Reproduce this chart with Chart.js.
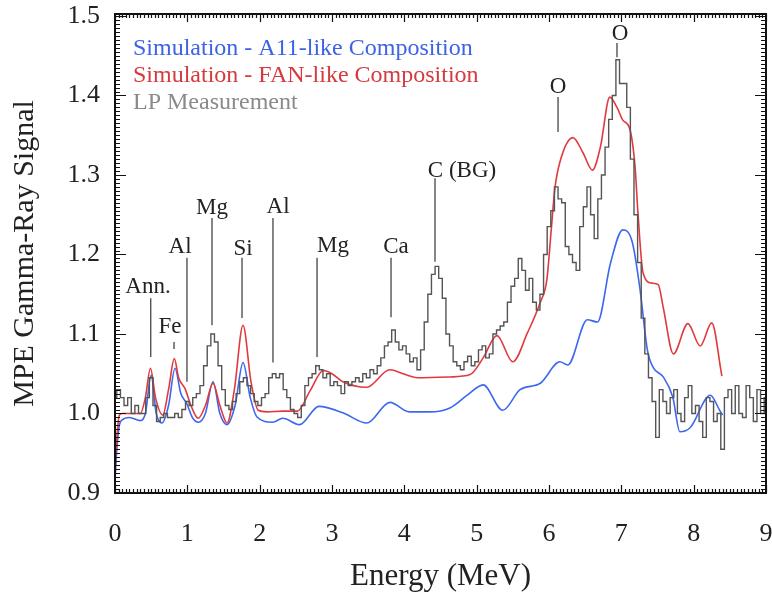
<!DOCTYPE html>
<html>
<head>
<meta charset="utf-8">
<script src="https://cdn.jsdelivr.net/npm/chart.js@4.4.1/dist/chart.umd.min.js"></script>
<style>
  html, body { margin: 0; padding: 0; background: #fff; }
</style>
</head>
<body>
<canvas id="spectrum" width="772" height="594"></canvas>
<script>
// simulation - A11-like composition
var a11Energy = [0, 0.03, 0.06, 0.1, 0.2, 0.35, 0.42, 0.5, 0.57, 0.65, 0.74, 0.83, 0.91, 0.99, 1.07,
  1.15, 1.25, 1.355, 1.45, 1.55, 1.66, 1.77, 1.87, 1.96, 2.18, 2.32, 2.55, 2.82, 3.15, 3.48,
  3.8, 4.07, 4.35, 4.63, 4.87, 5.09, 5.36, 5.6, 5.88, 6.15, 6.26, 6.53, 6.67, 6.85, 7.02,
  7.15, 7.26, 7.36, 7.44, 7.58, 7.71, 7.81, 7.95, 8.23, 8.36, 8.40];
var a11Signal = [0.916, 0.96, 0.985, 0.992, 0.995, 0.991, 1.0, 1.048, 1.0, 0.988, 1.01, 1.057, 1.025, 1.013, 0.995,
  0.989, 1.0, 1.040, 1.0, 0.986, 1.01, 1.064, 1.02, 0.996, 0.989, 0.994, 0.986, 1.009, 1.001, 0.988,
  1.014, 1.002, 1.002, 1.007, 1.023, 1.036, 1.004, 1.030, 1.038, 1.065, 1.061, 1.118, 1.115, 1.189, 1.231,
  1.216, 1.155, 1.080, 1.058, 1.046, 1.021, 0.977, 0.982, 1.023, 1.004, 0.998];

// simulation - FAN-like composition
var fanEnergy = [0, 0.03, 0.06, 0.1, 0.2, 0.35, 0.42, 0.49, 0.56, 0.66, 0.74, 0.82, 0.88, 0.97, 1.05,
  1.15, 1.25, 1.355, 1.45, 1.55, 1.65, 1.77, 1.88, 1.98, 2.1, 2.32, 2.52, 2.7, 2.88, 3.0,
  3.15, 3.48, 3.8, 3.98, 4.18, 4.63, 4.91, 5.09, 5.28, 5.5, 5.7, 5.88, 5.97, 6.03, 6.08,
  6.15, 6.33, 6.47, 6.6, 6.71, 6.84, 6.94, 7.02, 7.12, 7.19, 7.23, 7.3, 7.42, 7.51, 7.58,
  7.72, 7.92, 8.09, 8.25, 8.39];
var fanSignal = [0.93, 0.975, 0.998, 1.0, 1.0, 1.0, 1.02, 1.057, 1.02, 0.998, 1.03, 1.069, 1.045, 1.031, 1.01,
  0.994, 1.01, 1.038, 1.01, 0.988, 1.03, 1.111, 1.04, 1.004, 1.002, 1.003, 1.003, 1.029, 1.054, 1.05,
  1.04, 1.033, 1.055, 1.05, 1.045, 1.046, 1.049, 1.070, 1.098, 1.065, 1.101, 1.14, 1.168, 1.23, 1.282,
  1.316, 1.347, 1.328, 1.306, 1.335, 1.398, 1.385, 1.369, 1.357, 1.31, 1.252, 1.177, 1.164, 1.162, 1.133,
  1.075, 1.113, 1.085, 1.114, 1.047];

// LP measurement, one bin every 0.05 MeV
var lpEnergy = [0.00, 0.05, 0.10, 0.15, 0.20, 0.25, 0.30, 0.35, 0.40, 0.45,
  0.50, 0.55, 0.60, 0.65, 0.70, 0.75, 0.80, 0.85, 0.90, 0.95,
  1.00, 1.05, 1.10, 1.15, 1.20, 1.25, 1.30, 1.35, 1.40, 1.45,
  1.50, 1.55, 1.60, 1.65, 1.70, 1.75, 1.80, 1.85, 1.90, 1.95,
  2.00, 2.05, 2.10, 2.15, 2.20, 2.25, 2.30, 2.35, 2.40, 2.45,
  2.50, 2.55, 2.60, 2.65, 2.70, 2.75, 2.80, 2.85, 2.90, 2.95,
  3.00, 3.05, 3.10, 3.15, 3.20, 3.25, 3.30, 3.35, 3.40, 3.45,
  3.50, 3.55, 3.60, 3.65, 3.70, 3.75, 3.80, 3.85, 3.90, 3.95,
  4.00, 4.05, 4.10, 4.15, 4.20, 4.25, 4.30, 4.35, 4.40, 4.45,
  4.50, 4.55, 4.60, 4.65, 4.70, 4.75, 4.80, 4.85, 4.90, 4.95,
  5.00, 5.05, 5.10, 5.15, 5.20, 5.25, 5.30, 5.35, 5.40, 5.45,
  5.50, 5.55, 5.60, 5.65, 5.70, 5.75, 5.80, 5.85, 5.90, 5.95,
  6.00, 6.05, 6.10, 6.15, 6.20, 6.25, 6.30, 6.35, 6.40, 6.45,
  6.50, 6.55, 6.60, 6.65, 6.70, 6.75, 6.80, 6.85, 6.90, 6.95,
  7.00, 7.05, 7.10, 7.15, 7.20, 7.25, 7.30, 7.35, 7.40, 7.45,
  7.50, 7.55, 7.60, 7.65, 7.70, 7.75, 7.80, 7.85, 7.90, 7.95,
  8.00, 8.05, 8.10, 8.15, 8.20, 8.25, 8.30, 8.35, 8.40, 8.45,
  8.50, 8.55, 8.60, 8.65, 8.70, 8.75, 8.80, 8.85, 8.90, 8.95,
  9.00];
var lpSignal = [1.02, 1.03, 1.02, 1.01, 1.02, 1.00, 1.01, 1.00, 1.00, 1.02,
  1.045, 1.01, 0.99, 0.995, 1.00, 0.995, 0.995, 1.00, 0.995, 1.005,
  1.015, 1.01, 1.02, 1.025, 1.035, 1.06, 1.085, 1.10, 1.09, 1.06,
  1.03, 1.01, 1.005, 1.015, 1.025, 1.04, 1.045, 1.035, 1.025, 1.015,
  1.01, 1.02, 1.025, 1.045, 1.05, 1.045, 1.05, 1.03, 1.02, 1.005,
  1.00, 0.995, 1.01, 1.035, 1.045, 1.05, 1.06, 1.055, 1.045, 1.05,
  1.035, 1.04, 1.035, 1.025, 1.04, 1.035, 1.04, 1.045, 1.04, 1.05,
  1.045, 1.055, 1.05, 1.06, 1.07, 1.085, 1.09, 1.105, 1.09, 1.08,
  1.085, 1.075, 1.065, 1.07, 1.055, 1.08, 1.115, 1.15, 1.175, 1.185,
  1.17, 1.145, 1.10, 1.085, 1.065, 1.06, 1.055, 1.065, 1.072, 1.06,
  1.065, 1.08, 1.085, 1.07, 1.075, 1.10, 1.105, 1.11, 1.115, 1.14,
  1.16, 1.17, 1.195, 1.18, 1.155, 1.17, 1.14, 1.13, 1.15, 1.20,
  1.235, 1.255, 1.285, 1.27, 1.265, 1.21, 1.20, 1.19, 1.18, 1.235,
  1.26, 1.285, 1.25, 1.22, 1.27, 1.30, 1.335, 1.37, 1.40, 1.445,
  1.415, 1.415, 1.385, 1.32, 1.25, 1.19, 1.12, 1.075, 1.045, 1.015,
  0.97, 1.03, 1.015, 1.00, 1.02, 1.03, 1.00, 0.99, 1.02, 1.035,
  1.00, 1.01, 0.99, 0.97, 1.02, 1.015, 0.99, 1.00, 0.955, 1.02,
  1.03, 1.00, 1.035, 1.00, 0.995, 1.035, 1.02, 0.99, 1.03, 1.00,
  1.02];

// line labels: element, line energy, line top/bottom, label energy, label baseline
var lineNames = ['Ann.', 'Fe', 'Al', 'Mg', 'Si', 'Al', 'Mg', 'Ca', 'C (BG)', 'O', 'O'];
var lineEnergy = [0.494, 0.816, 0.995, 1.341, 1.756, 2.184, 2.793, 3.816, 4.424, 6.125, 6.94];
var lineTop = [1.145, 1.090, 1.196, 1.246, 1.196, 1.246, 1.196, 1.196, 1.296, 1.398, 1.466];
var lineBottom = [1.071, 1.081, 1.040, 1.111, 1.120, 1.064, 1.071, 1.121, 1.191, 1.354, 1.448];
var labelEnergy = [0.456, 0.760, 0.899, 1.341, 1.770, 2.254, 3.014, 3.885, 4.797, 6.125, 6.982];
var labelBase = [1.1516, 1.1013, 1.2019, 1.2509, 1.1994, 1.2522, 1.2031, 1.2019, 1.2975, 1.4031, 1.4698];

var xTicks = [0, 1, 2, 3, 4, 5, 6, 7, 8, 9];
var yTicks = [0.9, 1.0, 1.1, 1.2, 1.3, 1.4, 1.5];

var serif = "'Liberation Serif', 'DejaVu Serif', serif";

function toPoints(xs, ys) {
  var out = [];
  for (var i = 0; i < xs.length; i++) {
    out.push({ x: xs[i], y: ys[i] });
  }
  return out;
}

// box with inward ticks on all four sides
var frame = {
  id: 'frame',
  afterDraw: function (chart) {
    var ctx = chart.ctx;
    var a = chart.chartArea;
    var sx = chart.scales.x;
    var sy = chart.scales.y;
    ctx.save();
    ctx.strokeStyle = '#111';
    ctx.lineWidth = 1.2;
    ctx.beginPath();
    for (var i = 0; i <= 180; i++) {
      var px = Math.round(sx.getPixelForValue(i / 20)) + 0.5;
      var len = (i % 20 === 0) ? 8 : 4;
      ctx.moveTo(px, a.bottom); ctx.lineTo(px, a.bottom - len);
      ctx.moveTo(px, a.top); ctx.lineTo(px, a.top + len);
    }
    for (var j = 0; j <= 120; j++) {
      var py = Math.round(sy.getPixelForValue(0.9 + j / 200)) + 0.5;
      var l = (j % 20 === 0) ? 11 : 5;
      ctx.moveTo(a.left, py); ctx.lineTo(a.left + l, py);
      ctx.moveTo(a.right, py); ctx.lineTo(a.right - l, py);
    }
    ctx.stroke();
    ctx.lineWidth = 2;
    ctx.strokeRect(a.left, a.top, a.right - a.left, a.bottom - a.top);
    ctx.restore();
  }
};

// element labels with their marker lines
var lineLabels = {
  id: 'lineLabels',
  afterDatasetsDraw: function (chart) {
    var ctx = chart.ctx;
    var sx = chart.scales.x;
    var sy = chart.scales.y;
    ctx.save();
    ctx.strokeStyle = '#444';
    ctx.lineWidth = 1.3;
    ctx.fillStyle = '#222';
    ctx.font = '23px ' + serif;
    ctx.textAlign = 'center';
    ctx.textBaseline = 'alphabetic';
    for (var i = 0; i < lineNames.length; i++) {
      var px = sx.getPixelForValue(lineEnergy[i]);
      ctx.beginPath();
      ctx.moveTo(px, sy.getPixelForValue(lineTop[i]));
      ctx.lineTo(px, sy.getPixelForValue(lineBottom[i]));
      ctx.stroke();
      ctx.fillText(lineNames[i], sx.getPixelForValue(labelEnergy[i]), sy.getPixelForValue(labelBase[i]));
    }
    ctx.restore();
  }
};

// text-only legend in the top left corner
var textLegend = {
  id: 'textLegend',
  afterDraw: function (chart) {
    var ctx = chart.ctx;
    var a = chart.chartArea;
    var sets = chart.data.datasets;
    ctx.save();
    ctx.font = '24px ' + serif;
    ctx.textAlign = 'left';
    ctx.textBaseline = 'alphabetic';
    for (var i = 0; i < sets.length; i++) {
      ctx.fillStyle = sets[i].legendColor;
      ctx.fillText(sets[i].label, a.left + 18, a.top + 41 + i * 27);
    }
    ctx.restore();
  }
};

var chart = new Chart(document.getElementById('spectrum'), {
  type: 'line',
  data: {
    datasets: [{
      label: 'Simulation - A11-like Composition',
      data: toPoints(a11Energy, a11Signal),
      borderColor: '#3d68ee',
      legendColor: '#3d62e6',
      borderWidth: 1.6,
      pointRadius: 0,
      cubicInterpolationMode: 'monotone',
      order: 3
    }, {
      label: 'Simulation - FAN-like Composition',
      data: toPoints(fanEnergy, fanSignal),
      borderColor: '#e03a3e',
      legendColor: '#d63a3e',
      borderWidth: 1.6,
      pointRadius: 0,
      cubicInterpolationMode: 'monotone',
      order: 2
    }, {
      label: 'LP Measurement',
      data: toPoints(lpEnergy, lpSignal),
      borderColor: '#555',
      legendColor: '#8a8a8a',
      borderWidth: 1.4,
      pointRadius: 0,
      stepped: 'middle',
      order: 1
    }]
  },
  options: {
    responsive: false,
    animation: false,
    devicePixelRatio: 1,
    layout: { padding: { top: 14, right: 6, left: 0, bottom: 0 } },
    plugins: {
      legend: { display: false },
      tooltip: { enabled: false }
    },
    scales: {
      x: {
        type: 'linear',
        min: 0,
        max: 9,
        afterBuildTicks: function (s) { s.ticks = xTicks.map(function (v) { return { value: v }; }); },
        afterFit: function (s) {
          s.height = 101;
          s.paddingLeft = 0;
          s.paddingRight = 0;
        },
        grid: { display: false, drawTicks: false },
        border: { display: false },
        ticks: { color: '#222', padding: 26, font: { family: serif, size: 26 } },
        title: {
          display: true,
          text: 'Energy (MeV)',
          color: '#222',
          font: { family: serif, size: 31, lineHeight: 1 },
          padding: { top: 2, bottom: 2 }
        }
      },
      y: {
        type: 'linear',
        min: 0.9,
        max: 1.5025,
        afterBuildTicks: function (s) { s.ticks = yTicks.map(function (v) { return { value: v }; }); },
        afterFit: function (s) {
          s.width = 115;
          s.paddingTop = 0;
          s.paddingBottom = 0;
        },
        grid: { display: false, drawTicks: false },
        border: { display: false },
        ticks: {
          color: '#222',
          padding: 15,
          font: { family: serif, size: 26 },
          callback: function (v) { return v.toFixed(1); }
        },
        title: {
          display: true,
          text: 'MPE Gamma-Ray Signal',
          color: '#222',
          font: { family: serif, size: 30, lineHeight: 1 },
          padding: { top: 10, bottom: 0 }
        }
      }
    }
  },
  plugins: [lineLabels, frame, textLegend]
});
</script>
</body>
</html>
